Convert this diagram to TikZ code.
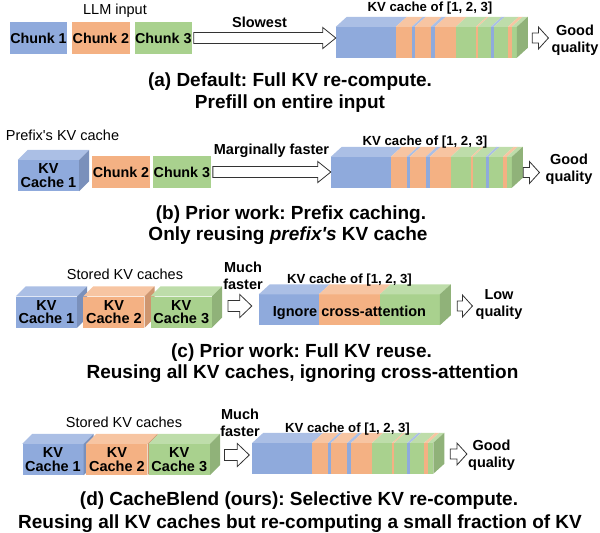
\documentclass[tikz,border=0pt]{standalone}
\usepackage{fontspec}
\setmainfont{Liberation Sans}
\usetikzlibrary{positioning,calc}
\frenchspacing

\definecolor{kvblue}{HTML}{8FAADC}
\definecolor{kvorange}{HTML}{F4B183}
\definecolor{kvgreen}{HTML}{A9D18E}

\newcommand{\cubefaces}[2]{%
  \fill[fill=#2!75!white] (#1.north west) -- ++(10,-10) -- ([shift={(10,-10)}]#1.north east) -- (#1.north east) -- cycle;
  \fill[fill=#2!85!black] (#1.north east) -- ++(10,-10) -- ([shift={(10,-10)}]#1.south east) -- (#1.south east) -- cycle;}

\newcommand{\kvstripes}[2]{%
  \begin{scope}[shift={(#1.north west)}]
  \foreach \a/\b/\col in #2 {
    \fill[fill=\col] (\a,0) rectangle (\b,31);
    \fill[fill=\col!75!white] (\a,0) -- (\a+11,-10) -- (\b+11,-10) -- (\b,0) -- cycle;
  }
  \fill[fill=kvgreen!85!black] (181,0) -- (192,-10) -- (192,21) -- (181,31) -- cycle;
  \end{scope}}

\newcommand{\hollowarrow}[5]{%
  \draw[blockarrow] let \p1=#1, \p2=#2 in
    (\x1,\y1+#3pt) -- (\x2-#5pt,\y1+#3pt) -- (\x2-#5pt,\y1+#4pt) -- (\x2,\y1)
    -- (\x2-#5pt,\y1-#4pt) -- (\x2-#5pt,\y1-#3pt) -- (\x1,\y1-#3pt) -- cycle;}

\newcommand{\mixedkv}{0/60/kvblue,60/76/kvorange,76/79/kvblue,79/95/kvorange,95/99/kvblue,99/120/kvorange,120/140/kvgreen,140/142/kvorange,142/155/kvgreen,155/158/kvblue,158/172/kvgreen,172/176/kvorange,176/181/kvgreen}
\newcommand{\plainkv}{0/60/kvblue,60/121/kvorange,121/181/kvgreen}

\begin{document}
\begin{tikzpicture}[x=1pt,y=-1pt,
chunk/.style={rectangle,inner sep=0pt,minimum width=57.5pt,minimum height=32pt,font=\fontsize{14.3}{16}\selectfont\bfseries},
cubefront/.style={rectangle,inner sep=0pt,minimum width=61pt,minimum height=31pt,align=center,font=\fontsize{14.5}{13.5}\selectfont\bfseries},
kvfront/.style={rectangle,inner sep=0pt,minimum width=181pt,minimum height=31pt},
kvtitle/.style={inner sep=0pt,anchor=base,font=\fontsize{13.2}{15}\selectfont\bfseries},
note/.style={inner sep=0pt,anchor=base,font=\fontsize{14.5}{17}\selectfont},
speed/.style={inner sep=0pt,align=center,font=\fontsize{14.5}{17}\selectfont\bfseries},
caption/.style={inner sep=0pt,anchor=base,font=\fontsize{19}{22}\selectfont\bfseries},
blockarrow/.style={draw=black!80,line width=0.8pt,fill=white,line join=miter}]
\useasboundingbox (0,0) rectangle (600,533);

% (a)
\node[note] (llm) at (115,14) {LLM input};
\node[chunk,fill=kvblue] (ca1) at (38.5,38) {Chunk 1};
\node[chunk,fill=kvorange,right=4.5pt of ca1] (ca2) {Chunk 2};
\node[chunk,fill=kvgreen,right=4.5pt of ca2] (ca3) {Chunk 3};
\node[kvfront] (kva) at (426.5,42.5) {};
\kvstripes{kva}{\mixedkv}
\node[kvtitle] (kvta) at (430,11) {KV cache of [1, 2, 3]};
\node[speed,anchor=base] (slow) at (259.5,27) {Slowest};
\hollowarrow{([xshift=1.5pt]ca3.east)}{(kva.west)}{5.5}{10.5}{13}
\node[speed] (gqa) at (575,40) {Good\\quality};
\hollowarrow{([xshift=15pt,yshift=4.5pt]kva.east)}{([xshift=-3pt]gqa.west)}{5}{11}{10}
\node[caption] (capa1) at (290,86) {(a) Default: Full KV re-compute.};
\node[caption] (capa2) at (290,108.5) {Prefill on entire input};

% (b)
\node[note] (pre) at (62.5,140) {Prefix\textquotesingle s KV cache};
\node[cubefront,fill=kvblue] (kb1) at (48.5,175.5) {KV\\Cache 1};
\cubefaces{kb1}{kvblue}
\node[chunk,fill=kvorange] (cb2) at (121,172) {Chunk 2};
\node[chunk,fill=kvgreen,right=3pt of cb2] (cb3) {Chunk 3};
\node[kvfront] (kvb) at (421.5,172.5) {};
\kvstripes{kvb}{\mixedkv}
\node[kvtitle] (kvtb) at (425,145) {KV cache of [1, 2, 3]};
\node[speed,anchor=base] (marg) at (271.5,154) {Marginally faster};
\hollowarrow{([xshift=2pt]cb3.east)}{(kvb.west)}{5.5}{10.5}{13}
\node[speed] (gqb) at (569,169) {Good\\quality};
\hollowarrow{([xshift=11pt]kvb.east)}{([xshift=-6pt]gqb.west)}{5}{11}{10}
\node[caption] (capb1) at (291,219) {(b) Prior work: Prefix caching.};
\node[caption] (capb2) at (288,240) {Only reusing \textit{prefix\textquotesingle s} KV cache};

% (c)
\node[note] (stc) at (125,279) {Stored KV caches};
\node[cubefront,fill=kvblue] (kc1) at (46.5,312) {KV\\Cache 1};
\cubefaces{kc1}{kvblue}
\node[cubefront,fill=kvorange,right=6pt of kc1] (kc2) {KV\\Cache 2};
\cubefaces{kc2}{kvorange}
\node[cubefront,fill=kvgreen,right=6pt of kc2] (kc3) {KV\\Cache 3};
\cubefaces{kc3}{kvgreen}
\node[speed] (muchc) at (243,276) {Much\\faster};
\node[kvfront] (kvc) at (349.5,310) {};
\kvstripes{kvc}{\plainkv}
\node[speed] (ign) at ([yshift=-3pt]kvc.center) {Ignore cross-attention};
\node[kvtitle] (kvtc) at (349.5,283) {KV cache of [1, 2, 3]};
\hollowarrow{([xshift=16pt,yshift=6pt]kc3.east)}{([xshift=-7pt]kvc.west)}{5.5}{11.5}{12}
\node[speed] (lq) at (499,304.5) {Low\\quality};
\hollowarrow{([xshift=17pt,yshift=4pt]kvc.east)}{([xshift=-3pt]lq.west)}{5}{11}{10}
\node[caption] (capc1) at (301.5,357) {(c) Prior work: Full KV reuse.};
\node[caption] (capc2) at (302.5,378.5) {Reusing all KV caches, ignoring cross-attention};

% (d)
\node[note] (std) at (124,427) {Stored KV caches};
\node[cubefront,fill=kvblue] (kd1) at (53,459.5) {KV\\Cache 1};
\cubefaces{kd1}{kvblue}
\node[cubefront,fill=kvorange,right=2.5pt of kd1] (kd2) {KV\\Cache 2};
\cubefaces{kd2}{kvorange}
\node[cubefront,fill=kvgreen,right=1pt of kd2] (kd3) {KV\\Cache 3};
\cubefaces{kd3}{kvgreen}
\node[speed] (muchd) at (240,423) {Much\\faster};
\node[kvfront] (kvd) at (343,458.5) {};
\kvstripes{kvd}{\mixedkv}
\node[kvtitle] (kvtd) at (347.5,432) {KV cache of [1, 2, 3]};
\hollowarrow{([xshift=14.5pt,yshift=4.5pt]kd3.east)}{([xshift=-3pt]kvd.west)}{5.5}{11.5}{12}
\node[speed] (gqd) at (491.5,455) {Good\\quality};
\hollowarrow{([xshift=16.5pt,yshift=4.5pt]kvd.east)}{([xshift=-1pt]gqd.west)}{5}{11}{10}
\node[caption] (capd1) at (299,505) {(d) CacheBlend (ours): Selective KV re-compute.};
\node[caption] (capd2) at (300,528) {Reusing all KV caches but re-computing a small fraction of KV};
\end{tikzpicture}
\end{document}
